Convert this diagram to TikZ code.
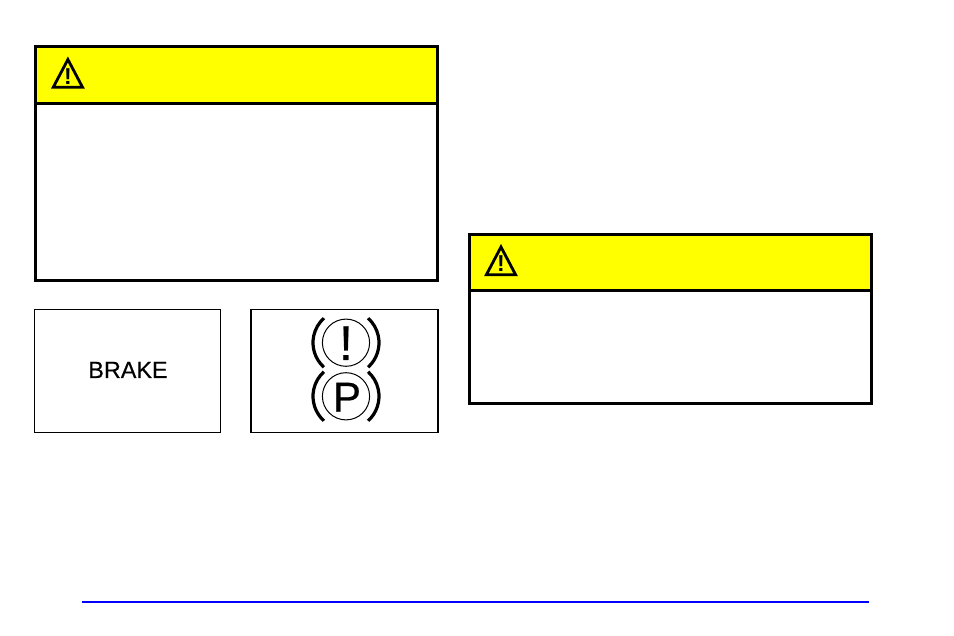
\documentclass[tikz,border=0pt]{standalone}
\usepackage{fontspec}
\setmainfont{Liberation Sans}
\definecolor{capyellow}{RGB}{255,255,0}
\definecolor{rulerblue}{RGB}{0,0,255}
\tikzset{
  heavy/.style={draw=black,line width=3.3pt},
  header/.style={fill=capyellow,draw=none},
  thinbox/.style={draw=black,line width=1.4pt,fill=white},
  warntri/.style={draw=black,line width=2.8pt,line join=miter},
  ring/.style={draw=black,line width=1pt},
  brace/.style={draw=black,line width=3.2pt},
  glyph/.style={inner sep=0pt,outer sep=0pt,anchor=base}
}
\newcommand{\cautionbox}[5]{% left, top, right, divider y, bottom
  \fill[header] (#1,#2) rectangle (#3,#4);
  \draw[heavy] (#1,#4) -- (#3,#4);
  \draw[heavy] (#1,#2) rectangle (#3,#5);
}
\newcommand{\warnicon}[3]{% apex x, apex y, name
  \begin{scope}[shift={(#1,#2)}]
    \draw[warntri] (0,0) -- (-14.6,27.7) -- (14.6,27.7) -- cycle;
    \node[glyph] (#3) at (0,25) {\fontsize{23}{23}\selectfont\bfseries !};
  \end{scope}
}
\newcommand{\symbolrings}[2]{% centre x, centre y
  \draw[ring] (#1,#2) circle (23.6);
  \draw[brace] ($(#1,#2)+(132:33)$) arc (132:228:33);
  \draw[brace] ($(#1,#2)+(48:33)$) arc (48:-48:33);
}
\usetikzlibrary{calc}
\begin{document}
\begin{tikzpicture}[x=1pt,y=-1pt]
  \useasboundingbox (0,0) rectangle (954,636);
  \fill[white] (0,0) rectangle (954,636);
  \cautionbox{35.5}{46.5}{437.5}{103.5}{280.5}
  \warnicon{67.9}{59.5}{warnA}
  \cautionbox{469.5}{234.5}{871.5}{290.5}{403.5}
  \warnicon{501}{247}{warnB}
  \draw[thinbox] (34.5,309.5) rectangle (220.5,432.5);
  \node[glyph] (brake) at (128,378) {\fontsize{23.4}{23.4}\selectfont\addfontfeature{FakeBold=0.35}BRAKE};
  \draw[thinbox] (251,309.5) rectangle (438,432.5);
  \symbolrings{346}{342.7}
  \symbolrings{346}{396.3}
  \node[glyph] (bang) at (346,360) {\fontsize{49}{49}\selectfont\addfontfeature{FakeBold=0.6}!};
  \node[glyph] (park) at (347,411.7) {\fontsize{42}{42}\selectfont\addfontfeature{FakeBold=0.5}P};
  \draw[rulerblue,line width=2.2pt] (81.5,602) -- (869,602);
\end{tikzpicture}
\end{document}
